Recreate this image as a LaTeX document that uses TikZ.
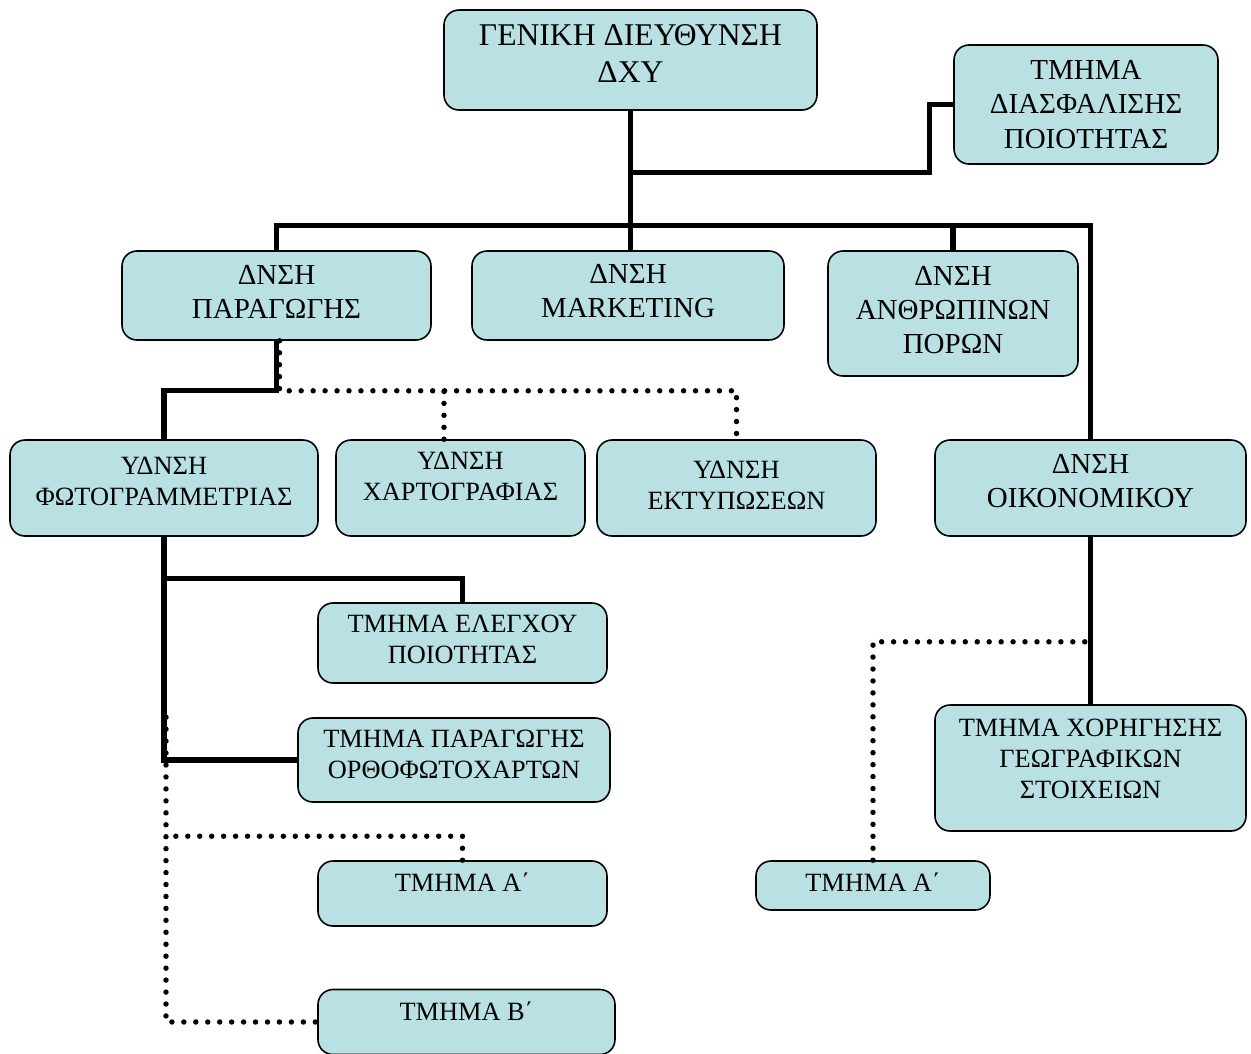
\documentclass[tikz,border=0pt]{standalone}
\usepackage{fontspec}
\setmainfont{Liberation Serif}
\usetikzlibrary{arrows}
\definecolor{boxfill}{HTML}{B9E0E3}
\tikzstyle{ob} = [rectangle, draw, line width=0.9pt, fill=boxfill, align=center,
    rounded corners=0.3cm, inner sep=2pt]
\tikzstyle{fa} = [font=\fontsize{18}{20.8}\selectfont]
\tikzstyle{fb} = [font=\fontsize{16.5}{19.4}\selectfont]
\tikzstyle{fc} = [font=\fontsize{15}{17.6}\selectfont]
\tikzstyle{tl} = [line width=3pt]
\tikzstyle{dl} = [line width=3.1pt, line cap=round, dash pattern=on 0pt off 6.8pt]

\begin{document}
\begin{tikzpicture}[node distance=3.5cm]
  \useasboundingbox (0,0) rectangle (25.02,-21.06);

  \node[ob, fa, minimum width=7.46cm, minimum height=2cm, text depth=0.26cm] (1) at (12.61,-1.2) {ΓΕΝΙΚΗ ΔΙΕΥΘΥΝΣΗ\\ΔΧΥ};
  \node[ob, fb, minimum width=5.28cm, minimum height=2.38cm] (2) [right of=1, xshift=5.61cm, yshift=-0.89cm] {ΤΜΗΜΑ\\ΔΙΑΣΦΑΛΙΣΗΣ\\ΠΟΙΟΤΗΤΑΣ};
  \node[ob, fb, minimum width=6.18cm, minimum height=1.78cm, text depth=0.16cm] (3) [below of=1, xshift=-7.08cm, yshift=-1.21cm] {ΔΝΣΗ\\ΠΑΡΑΓΩΓΗΣ};
  \node[ob, fb, minimum width=6.24cm, minimum height=1.78cm, text depth=0.2cm] (4) [right of=3, xshift=3.53cm] {ΔΝΣΗ\\MARKETING};
  \node[ob, fb, minimum width=5cm, minimum height=2.5cm, text depth=0.14cm] (5) [right of=4, xshift=3cm, yshift=-0.36cm] {ΔΝΣΗ\\ΑΝΘΡΩΠΙΝΩΝ\\ΠΟΡΩΝ};
  \node[ob, fc, minimum width=6.16cm, minimum height=1.92cm, text depth=0.26cm] (6) [below of=3, xshift=-2.25cm, yshift=-0.35cm] {ΥΔΝΣΗ\\ΦΩΤΟΓΡΑΜΜΕΤΡΙΑΣ};
  \node[ob, fc, minimum width=4.98cm, minimum height=1.92cm, text depth=0.46cm] (7) [right of=6, xshift=2.43cm] {ΥΔΝΣΗ\\ΧΑΡΤΟΓΡΑΦΙΑΣ};
  \node[ob, fc, minimum width=5.58cm, minimum height=1.92cm, text depth=0.1cm] (8) [right of=7, xshift=2.02cm] {ΥΔΝΣΗ\\ΕΚΤΥΠΩΣΕΩΝ};
  \node[ob, fb, minimum width=6.22cm, minimum height=1.92cm, text depth=0.3cm] (9) [right of=8, xshift=3.58cm] {ΔΝΣΗ\\ΟΙΚΟΝΟΜΙΚΟΥ};
  \node[ob, fc, minimum width=5.78cm, minimum height=1.6cm, text depth=0.14cm] (10) [below of=6, xshift=5.97cm, yshift=0.4cm] {ΤΜΗΜΑ ΕΛΕΓΧΟΥ\\ΠΟΙΟΤΗΤΑΣ};
  \node[ob, fc, minimum width=6.24cm, minimum height=1.68cm, text depth=0.22cm] (11) [below of=10, xshift=-0.17cm, yshift=1.16cm] {ΤΜΗΜΑ ΠΑΡΑΓΩΓΗΣ\\ΟΡΘΟΦΩΤΟΧΑΡΤΩΝ};
  \node[ob, fc, minimum width=5.78cm, minimum height=1.3cm, text depth=0.44cm] (12) [below of=11, xshift=0.17cm, yshift=0.83cm] {ΤΜΗΜΑ Α΄};
  \node[ob, fc, minimum width=5.94cm, minimum height=1.3cm, text depth=0.44cm] (13) [below of=12, xshift=0.08cm, yshift=0.93cm] {ΤΜΗΜΑ Β΄};
  \node[ob, fc, minimum width=6.22cm, minimum height=2.52cm, text depth=0.36cm] (14) [below of=9, yshift=-2.1cm] {ΤΜΗΜΑ ΧΟΡΗΓΗΣΗΣ\\ΓΕΩΓΡΑΦΙΚΩΝ\\ΣΤΟΙΧΕΙΩΝ};
  \node[ob, fc, minimum width=4.68cm, minimum height=0.98cm, text depth=0.14cm] (15) [below of=14, xshift=-4.35cm, yshift=1.15cm] {ΤΜΗΜΑ Α΄};

  % dotted links
  \draw[dl] ([xshift=0.06cm]3.south) -- ++(0,-1cm) -| (8.north);
  \draw[dl] ([xshift=-0.33cm]7.north) -- ++(0,1cm);
  \draw[dl] ([xshift=0.04cm]6.south |- 11.north) |- (13.west);
  \coordinate (d1) at ([yshift=0.48cm]12.north);
  \draw[dl] (12.north) -- (d1) -- (d1 -| 6.south);
  \draw[dl] (15.north) |- ([yshift=-2.1cm]9.south);

  % solid links
  \coordinate (qa) at ([yshift=-1.24cm]1.south);
  \coordinate (bus) at ([yshift=-2.3cm]1.south);
  \draw[tl] (1.south) -- (bus);
  \draw[tl] (2.west) -- ++(-0.48cm,0) |- (qa);
  \draw[tl] (3.north) |- (bus) -| (9.north);
  \draw[tl] (bus) -- (bus |- 4.north);
  \draw[tl] (5.north) -- (5.north |- bus);
  \draw[tl] (3.south) -- ++(0,-1cm) -| (6.north);
  \draw[tl] ([yshift=-0.84cm]6.south) -| (10.north);
  \draw[tl] (6.south) |- (11.west);
  \draw[tl] (9.south) -- (14.north);
\end{tikzpicture}
\end{document}
